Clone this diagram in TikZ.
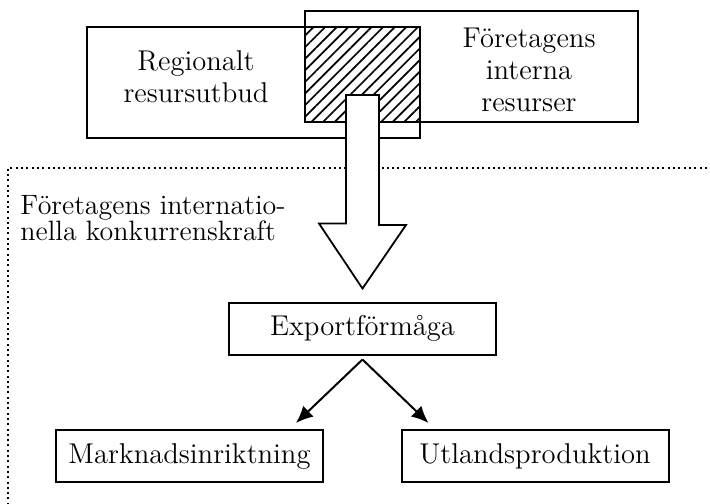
\documentclass[tikz,border=0pt]{standalone}
\usepackage{tikz}
\usetikzlibrary{arrows.meta, positioning, calc, patterns.meta}

\tikzset{
  resbox/.style={draw, line width=1pt, minimum width=133.5pt, minimum height=26pt, inner sep=0pt},
  boxtext/.style={align=center, inner sep=0pt, font=\fontsize{14.3}{16}\selectfont},
  overlap/.style={draw, line width=1.2pt, pattern={Lines[angle=45, distance=4.1pt, line width=0.85pt]}},
  hollow/.style={draw, fill=white, line width=0.9pt, line join=miter},
  flow/.style={line width=1pt, -{Latex[length=8.5pt, width=7.5pt]}},
  frame/.style={line width=1pt, dash pattern=on 1pt off 1.65pt}
}

\begin{document}
\begin{tikzpicture}[x=0.5pt, y=-0.5pt]
  \useasboundingbox (0,0) rectangle (710,503);

  % resursboxar
  \draw[line width=1pt] (87,27) rectangle (420,138);
  \draw[line width=1pt] (305,11) rectangle (638,122);
  \draw[overlap] (305,27) rectangle (420,122);
  \node[boxtext] (regional) at (196,77) {Regionalt\\resursutbud};
  \node[boxtext] (interna) at (529,70) {Företagens\\interna\\resurser};

  \draw[frame] (8,510) -- (8,168) -- (715,168);
  \node[boxtext, align=left, anchor=north west, font=\fontsize{14}{12.8}\selectfont] (konkurrens) at (20,195)
    {Företagens internatio-\\nella konkurrenskraft};

  \node[resbox] (export) at (362.5,328.5) {\fontsize{14.3}{16}\selectfont Exportförmåga};
  \node[resbox] (marknad) at (189.5,456) {\fontsize{14.3}{16}\selectfont Marknadsinriktning};
  \node[resbox] (utland) at (535,456) {\fontsize{14.3}{16}\selectfont Utlandsproduktion};

  \coordinate (arrtop) at (362.5,95);
  \draw[hollow] ($(arrtop)+(-16.5,0)$) -- ++(33,0) -- ++(0,130) -- ++(27,0)
    -- ([yshift=6.5pt]export.north) -- ++(-43.5,-65) -- ++(27,0) -- cycle;

  \draw[flow] ([yshift=-2pt]export.south) -- ([xshift=-14pt, yshift=3pt]marknad.north east);
  \draw[flow] ([yshift=-2pt]export.south) -- ([xshift=14pt, yshift=3pt]utland.north west);
\end{tikzpicture}
\end{document}
